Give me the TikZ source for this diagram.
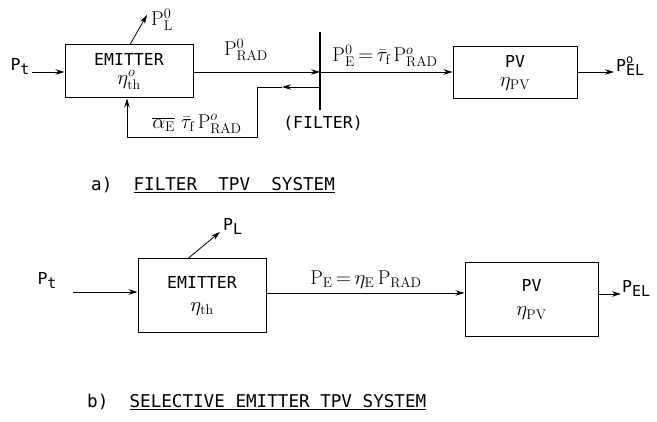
\documentclass[tikz,border=0pt]{standalone}
\usepackage{fontspec}
\newfontfamily\monof{DejaVu Sans Mono}
\usetikzlibrary{arrows.meta}
\newcommand{\sbx}[1]{\raisebox{-4pt}{\fontsize{15}{16}\selectfont #1}}
\newcommand{\spx}[1]{\raisebox{8pt}{\fontsize{12}{13}\selectfont #1}}
\newcommand{\mth}[1]{{\fontsize{20}{21}\selectfont$#1$}}
\begin{document}
\begin{tikzpicture}[x=1pt,y=-1pt,
  blk/.style={draw,line width=1pt,inner sep=0pt,align=center,font=\monof\fontsize{16.5}{19}\selectfont},
  arr/.style={-{Stealth[length=9pt,width=5.5pt]},line width=0.8pt},
  ln/.style={line width=0.8pt},
  lab/.style={inner sep=0pt,font=\fontsize{20}{22}\selectfont},
  slab/.style={inner sep=0pt,font=\monof\fontsize{16.5}{19}\selectfont},
  tlab/.style={inner sep=0pt,font=\monof\fontsize{17.6}{19}\selectfont}]
\useasboundingbox (0,0) rectangle (657,422);
% ---------- a) ----------
\node[blk,minimum width=128pt,minimum height=53pt] (ema) at (129,71.5) {EMITTER\\[0pt]\mth{\eta^{o}_{\mathrm{th}}}};
\node[blk,minimum width=124pt,minimum height=52pt] (pva) at (515,73) {PV\\[0pt]\mth{\eta_{\mathrm{PV}}}};
\coordinate (ft) at (320,32);
\coordinate (fb) at (320,110);
\draw[line width=1.1pt] (ft) -- (fb);
\coordinate (fin) at (320,72);
\coordinate (fout) at (320,87);
\coordinate (fbm) at (282,87);
\coordinate (fbc1) at (257,87);
\coordinate (fbc2) at (257,137);
\coordinate (fbc3) at (127,137);
\coordinate (ptaA) at (32,72);
\node[slab] (pta) at (20,66) {P\sbx{t}};
\draw[arr] (ptaA) -- (ema.west |- ptaA);
\draw[arr] (ema.east |- fin) -- (fin);
\draw[arr] (fin) -- (pva.west |- fin);
\draw[arr] (fout) -- (fbm);
\draw[ln] (fbm) -- (fbc1) -- (fbc2) -- (fbc3);
\draw[arr] (fbc3) -- (ema.south -| fbc3);
\coordinate (pla) at (147,15);
\draw[arr] (ema.north -| 130,0) -- (pla);
\node[lab,anchor=west] (plal) at (151,20) {$\mathrm{P}^{0}_{\mathrm{L}}$};
\node[lab] (prada) at (246,50) {$\mathrm{P}^{0}_{\mathrm{RAD}}$};
\node[lab] (pea) at (385,56) {$\mathrm{P}^{0}_{\mathrm{E}}\,{=}\,\bar{\tau}_{\mathrm{f}}\,\mathrm{P}^{o}_{\mathrm{RAD}}$};
\node[lab] (fbl) at (197,124) {$\overline{\alpha_{\mathrm{E}}}\;\bar{\tau}_{\mathrm{f}}\,\mathrm{P}^{o}_{\mathrm{RAD}}$};
\node[slab] (filt) at (323,123) {(FILTER)};
\coordinate (pelaA) at (614,72);
\draw[arr] (pva.east |- pelaA) -- (pelaA);
\node[slab,anchor=west] (pela) at (616,66) {P\rlap{\spx{o}}\sbx{EL}};
\node[tlab,anchor=west] (tita) at (91,185) {a)\ \ \underline{FILTER\ \ TPV\ \ SYSTEM}};
% ---------- b) ----------
\node[blk,minimum width=128pt,minimum height=74pt] (emb) at (202,296) {EMITTER\\[4pt]\mth{\eta_{\mathrm{th}}}};
\node[blk,minimum width=133pt,minimum height=74pt] (pvb) at (531.5,300) {PV\\[5pt]\mth{\eta_{\mathrm{PV}}}};
\node[slab] (ptb) at (47,280) {P\sbx{t}};
\coordinate (ptbA) at (73,292);
\draw[arr] (ptbA) -- (emb.west |- ptbA);
\coordinate (emo) at (266,293);
\draw[arr] (emo) -- (pvb.west |- emo);
\node[lab] (peb) at (366,280) {$\mathrm{P}_{\mathrm{E}}\,{=}\,\eta_{\mathrm{E}}\,\mathrm{P}_{\mathrm{RAD}}$};
\coordinate (plb) at (220,232);
\draw[arr] (emb.north -| 188,0) -- (plb);
\node[slab,anchor=west] (plbl) at (223,226) {P\sbx{L}};
\coordinate (pelbA) at (621,294);
\draw[arr] (pvb.east |- pelbA) -- (pelbA);
\node[slab,anchor=west] (pelb) at (622,288) {P\sbx{EL}};
\node[tlab,anchor=west] (titb) at (87,402) {b)\ \ \underline{SELECTIVE EMITTER TPV SYSTEM}};
\end{tikzpicture}
\end{document}
